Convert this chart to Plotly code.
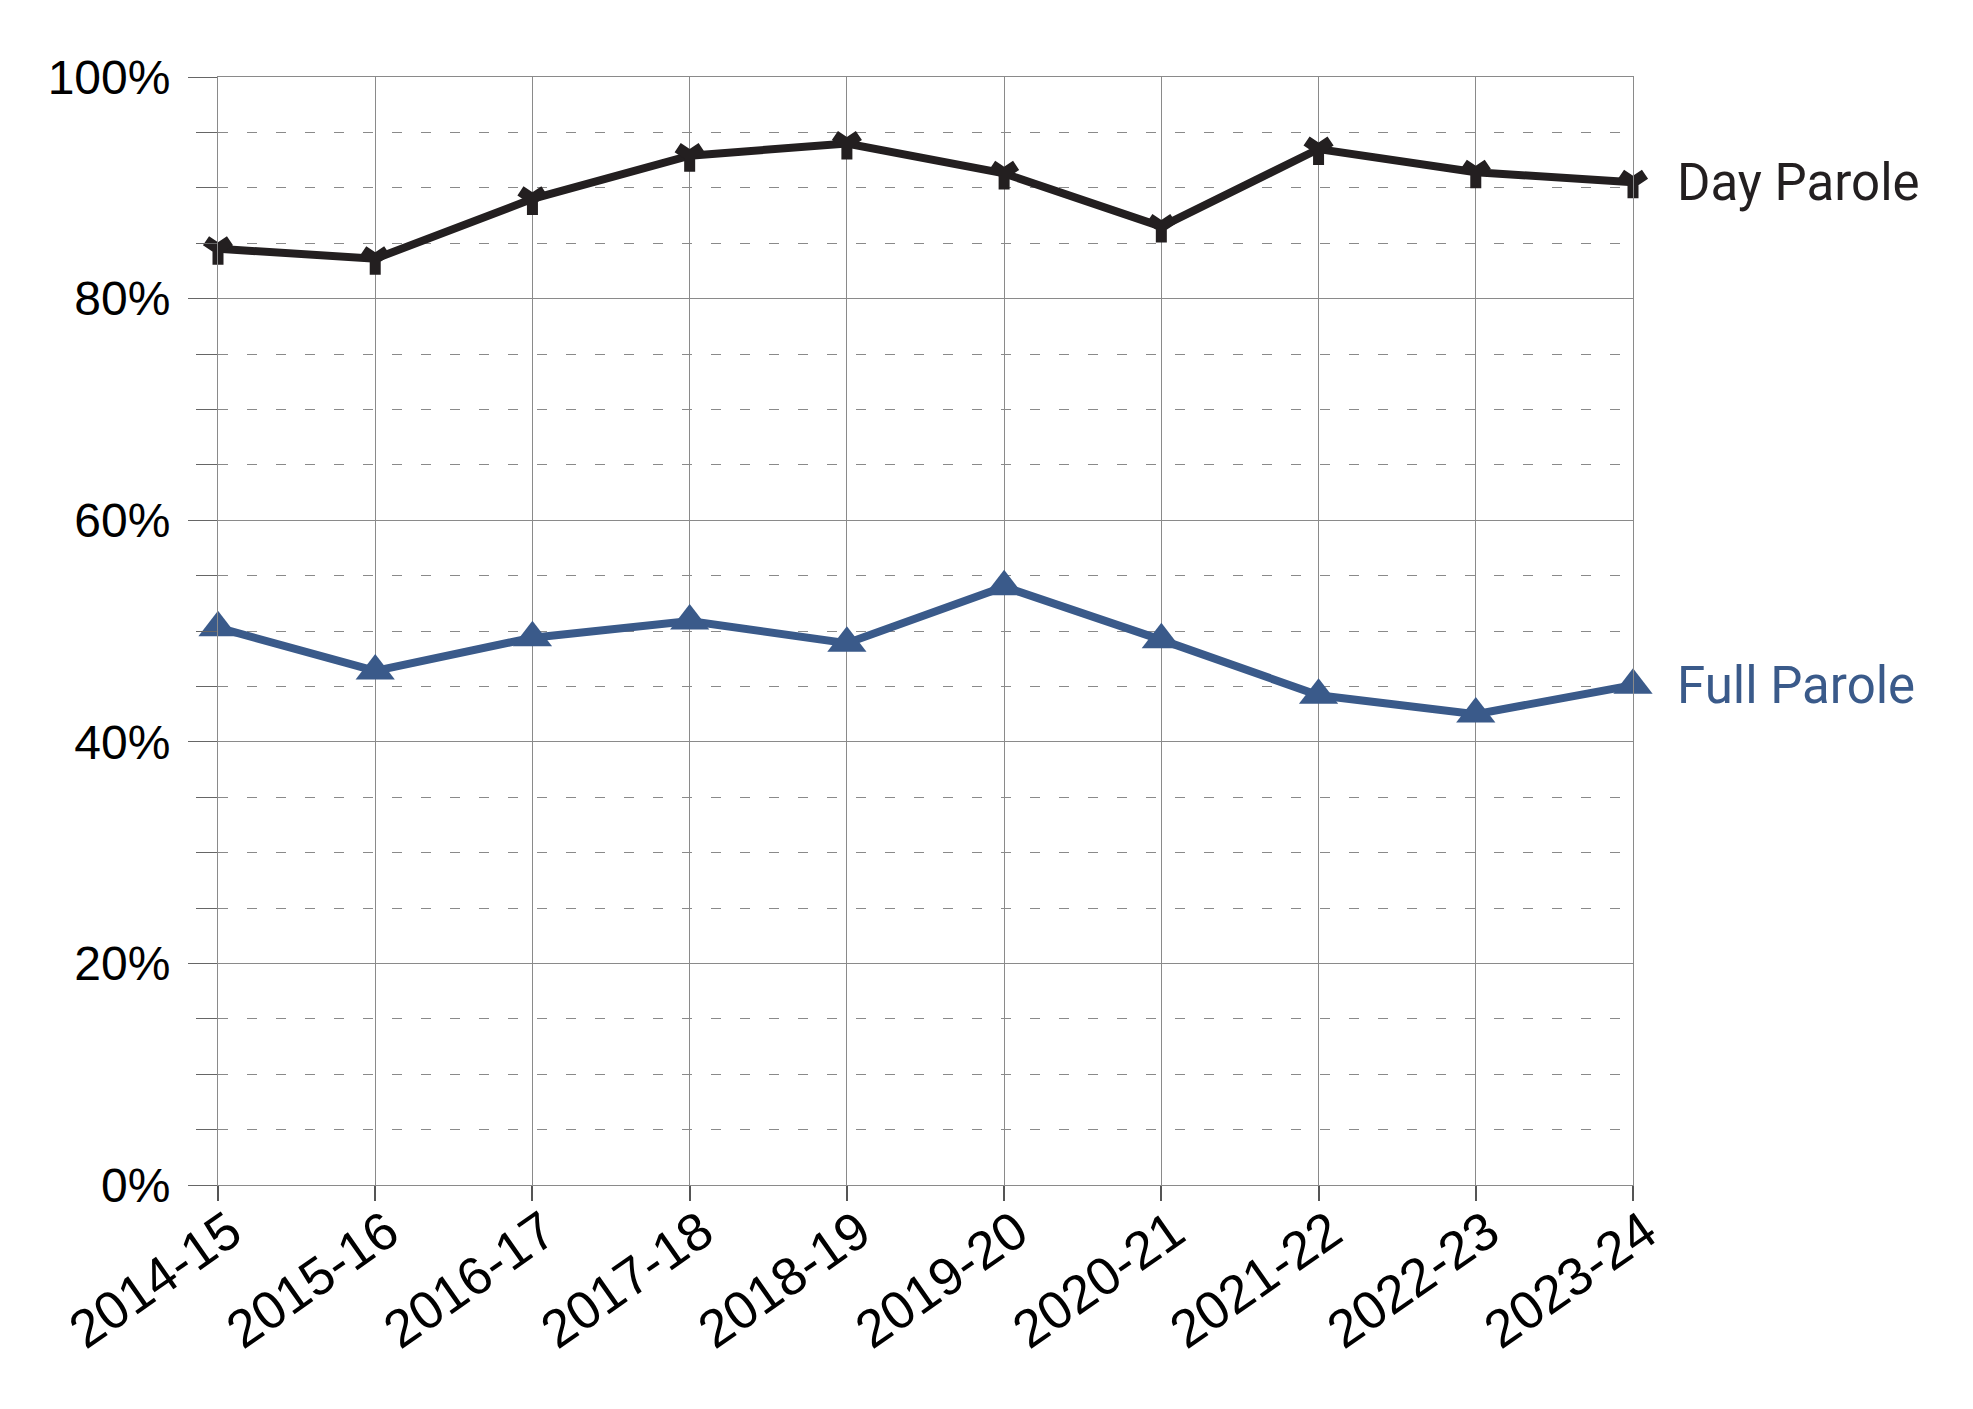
import plotly.graph_objects as go

years = ["2014-15", "2015-16", "2016-17", "2017-18", "2018-19",
         "2019-20", "2020-21", "2021-22", "2022-23", "2023-24"]
day_parole = [84.5, 83.6, 89.0, 92.9, 94.0, 91.3, 86.5, 93.5, 91.4, 90.5]
full_parole = [50.3, 46.4, 49.4, 50.9, 48.9, 54.0, 49.2, 44.2, 42.5, 45.1]

DARK = "#231f20"
BLUE = "#3a5a8a"
GRID = "#8a8a8a"

fig = go.Figure()
fig.add_trace(go.Scatter(
    x=years, y=day_parole, mode="lines+markers", name="Day Parole",
    line=dict(color=DARK, width=8),
    marker=dict(symbol="y-down-open", size=20, color=DARK,
                line=dict(color=DARK, width=11)),
    cliponaxis=False, showlegend=False))
fig.add_trace(go.Scatter(
    x=years, y=full_parole, mode="lines+markers", name="Full Parole",
    line=dict(color=BLUE, width=8),
    marker=dict(symbol="triangle-up", size=34, color=BLUE),
    cliponaxis=False, showlegend=False))

fig.add_annotation(x=years[-1], y=day_parole[-1], text="Day Parole",
                   xanchor="left", yanchor="middle", xshift=42, showarrow=False,
                   font=dict(family="Roboto", size=51, color=DARK))
fig.add_annotation(x=years[-1], y=full_parole[-1], text="Full Parole",
                   xanchor="left", yanchor="middle", xshift=42, showarrow=False,
                   font=dict(family="Roboto", size=51, color=BLUE))

fig.update_layout(
    width=1973, height=1409,
    margin=dict(l=218, r=340, t=77, b=224),
    paper_bgcolor="white", plot_bgcolor="white",
    font=dict(family="Liberation Sans", size=48, color="black"),
)
fig.update_xaxes(
    type="category", range=[0, 9],
    showgrid=True, gridcolor=GRID, gridwidth=1,
    showline=True, linecolor=GRID, linewidth=1, mirror=True,
    ticks="outside", ticklen=15, tickcolor="#555555", tickwidth=1.5,
    tickangle=-35, tickfont=dict(size=53, color="black"),
    ticklabelstandoff=-21, ticklabelshift=12,
)
fig.update_yaxes(
    range=[0, 100], dtick=20, ticksuffix="%",
    showgrid=True, gridcolor=GRID, gridwidth=1,
    showline=True, linecolor=GRID, linewidth=1, mirror=True,
    ticks="outside", ticklen=29, tickcolor="#666666", tickwidth=1,
    tickfont=dict(size=48, color="black"),
    ticklabelstandoff=8,
    zeroline=False,
    minor=dict(dtick=5, showgrid=True, gridcolor=GRID, gridwidth=1,
               griddash="10px,19px", ticks="outside", ticklen=21,
               tickcolor="#666666", tickwidth=1),
)

fig.write_html("out.html")
